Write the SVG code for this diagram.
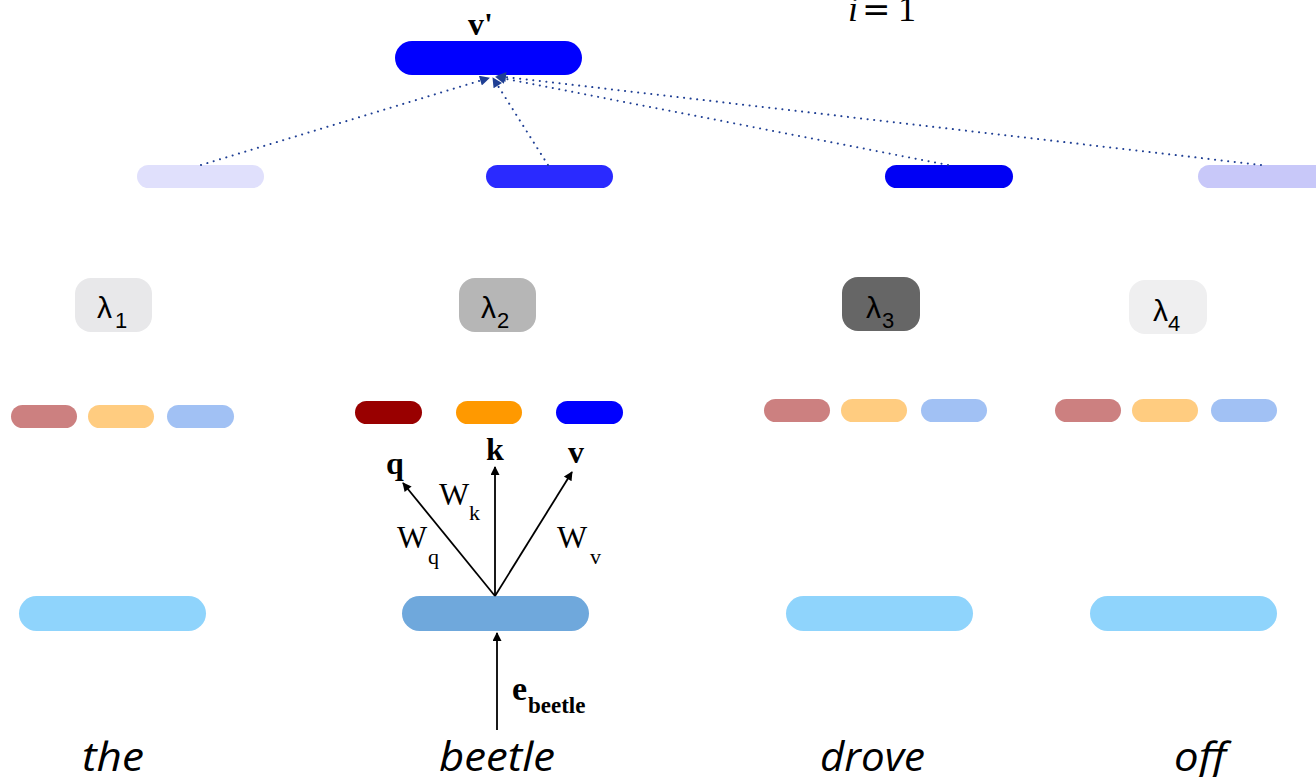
<svg xmlns="http://www.w3.org/2000/svg" width="1316" height="777" viewBox="0 0 1316 777">
  <style>
    .serif { font-family: "Liberation Serif", "Times New Roman", serif; fill: #000; }
    .bold { font-weight: bold; }
    .lam { font-family: "Liberation Sans", Arial, sans-serif; fill: #000; }
    .word { font-family: "Open Sans", "Liberation Sans", sans-serif; font-style: italic; font-size: 40px; fill: #000; }
    .dot { fill: none; stroke: #1f3f94; stroke-width: 2; stroke-dasharray: 0.1 6.5; stroke-linecap: round; }
    .arr { fill: none; stroke: #000; stroke-width: 1.8; }
  </style>
  <defs>
    <marker id="bluehead" viewBox="0 0 10 10" refX="9" refY="5" markerWidth="13" markerHeight="10" markerUnits="userSpaceOnUse" orient="auto">
      <path d="M0,0 L10,5 L0,10 z" fill="#1f3f94"/>
    </marker>
    <marker id="blackhead" viewBox="0 0 10 10" refX="9" refY="5" markerWidth="12" markerHeight="9" markerUnits="userSpaceOnUse" orient="auto">
      <path d="M0,0 L10,5 L0,10 z" fill="#000"/>
    </marker>
  </defs>

  <rect width="1316" height="777" fill="#fff"/>

  <!-- summation index fragment at top -->
  <text class="serif" x="848" y="21" font-size="36"><tspan font-style="italic">i</tspan><tspan x="862" font-family="DejaVu Serif, serif" font-size="34">=</tspan><tspan x="898">1</tspan></text>

  <!-- weighted output vector -->
  <g id="vprime">
    <rect x="395" y="41" width="187" height="34" rx="17" fill="#0000ff"/>
    <text class="serif bold" x="468" y="35" font-size="32">v'</text>
  </g>

  <!-- weighted value vectors -->
  <g id="wv1"><rect x="137" y="165" width="127" height="23" rx="11.5" fill="#e0e0fc"/></g>
  <g id="wv2"><rect x="486" y="165" width="127" height="23" rx="11.5" fill="#2a2aff"/></g>
  <g id="wv3"><rect x="885" y="165" width="128" height="23" rx="11.5" fill="#0000f5"/></g>
  <g id="wv4"><rect x="1198" y="165" width="130" height="23" rx="11.5" fill="#c8c8f9"/></g>

  <!-- attention weights -->
  <g id="lambda1">
    <rect x="75" y="278" width="77" height="54" rx="16" fill="#e8e8ea"/>
    <text class="lam" x="97" y="318" font-size="30">λ<tspan x="115" y="328" font-size="22">1</tspan></text>
  </g>
  <g id="lambda2">
    <rect x="459" y="278" width="77" height="54" rx="16" fill="#b6b6b6"/>
    <text class="lam" x="481" y="318" font-size="30">λ<tspan x="497" y="328" font-size="22">2</tspan></text>
  </g>
  <g id="lambda3">
    <rect x="842" y="277" width="78" height="54" rx="16" fill="#666666"/>
    <text class="lam" x="866" y="318" font-size="30">λ<tspan x="882" y="328" font-size="22">3</tspan></text>
  </g>
  <g id="lambda4">
    <rect x="1129" y="280" width="78" height="54" rx="16" fill="#efeff0"/>
    <text class="lam" x="1153" y="321" font-size="30">λ<tspan x="1168" y="331" font-size="22">4</tspan></text>
  </g>

  <!-- q, k, v vectors per token -->
  <g id="qkv-the">
    <rect x="11" y="405" width="66" height="23" rx="11.5" fill="#cc8080"/>
    <rect x="88" y="405" width="66" height="23" rx="11.5" fill="#ffcc80"/>
    <rect x="167" y="405" width="67" height="23" rx="11.5" fill="#a1c1f4"/>
  </g>
  <g id="qkv-beetle">
    <rect x="355" y="401" width="67" height="23" rx="11.5" fill="#990000"/>
    <rect x="456" y="401" width="66" height="23" rx="11.5" fill="#ff9900"/>
    <rect x="556" y="401" width="67" height="23" rx="11.5" fill="#0000ff"/>
  </g>
  <g id="qkv-drove">
    <rect x="764" y="399" width="66" height="23" rx="11.5" fill="#cc8080"/>
    <rect x="841" y="399" width="66" height="23" rx="11.5" fill="#ffcc80"/>
    <rect x="921" y="399" width="66" height="23" rx="11.5" fill="#a1c1f4"/>
  </g>
  <g id="qkv-off">
    <rect x="1055" y="399" width="66" height="23" rx="11.5" fill="#cc8080"/>
    <rect x="1132" y="399" width="66" height="23" rx="11.5" fill="#ffcc80"/>
    <rect x="1211" y="399" width="66" height="23" rx="11.5" fill="#a1c1f4"/>
  </g>

  <!-- projection labels -->
  <g id="proj-labels">
    <text class="serif bold" x="386" y="474" font-size="32">q</text>
    <text class="serif bold" x="486" y="460" font-size="32">k</text>
    <text class="serif bold" x="568" y="463" font-size="32">v</text>
    <text class="serif" x="439" y="505" font-size="32">W<tspan x="469" y="520" font-size="22">k</tspan></text>
    <text class="serif" x="397" y="548" font-size="32">W<tspan x="428" y="564" font-size="22">q</tspan></text>
    <text class="serif" x="557" y="548" font-size="32">W<tspan x="590" y="564" font-size="22">v</tspan></text>
  </g>

  <!-- token embeddings -->
  <g id="emb-the"><rect x="19" y="596" width="187" height="35" rx="17.5" fill="#8fd4fc"/></g>
  <g id="emb-beetle"><rect x="402" y="596" width="187" height="35" rx="17.5" fill="#6fa8dc"/></g>
  <g id="emb-drove"><rect x="786" y="596" width="187" height="35" rx="17.5" fill="#8fd4fc"/></g>
  <g id="emb-off"><rect x="1090" y="596" width="187" height="35" rx="17.5" fill="#8fd4fc"/></g>

  <g id="ebeetle-label">
    <text class="serif bold" x="512" y="700" font-size="34">e<tspan x="528" y="713" font-size="23">beetle</tspan></text>
  </g>

  <!-- tokens -->
  <g id="words">
    <text class="word" x="82" y="771" textLength="62" lengthAdjust="spacingAndGlyphs">the</text>
    <text class="word" x="439" y="771" textLength="116" lengthAdjust="spacingAndGlyphs">beetle</text>
    <text class="word" x="820" y="771" textLength="105" lengthAdjust="spacingAndGlyphs">drove</text>
    <text class="word" x="1174" y="771" textLength="52" lengthAdjust="spacingAndGlyphs">off</text>
  </g>

  <!-- connectors -->
  <g id="connectors">
    <line class="dot" x1="201" y1="165" x2="489" y2="78" marker-end="url(#bluehead)"/>
    <line class="dot" x1="548" y1="165" x2="493" y2="78" marker-end="url(#bluehead)"/>
    <line class="dot" x1="948" y1="165" x2="496" y2="77" marker-end="url(#bluehead)"/>
    <line class="dot" x1="1261" y1="165" x2="497" y2="76" marker-end="url(#bluehead)"/>

    <line class="arr" x1="495" y1="596" x2="403" y2="483" marker-end="url(#blackhead)"/>
    <line class="arr" x1="495" y1="596" x2="495" y2="467" marker-end="url(#blackhead)"/>
    <line class="arr" x1="495" y1="596" x2="572" y2="472" marker-end="url(#blackhead)"/>
    <line class="arr" x1="497" y1="730" x2="497" y2="633" marker-end="url(#blackhead)"/>
  </g>
</svg>
